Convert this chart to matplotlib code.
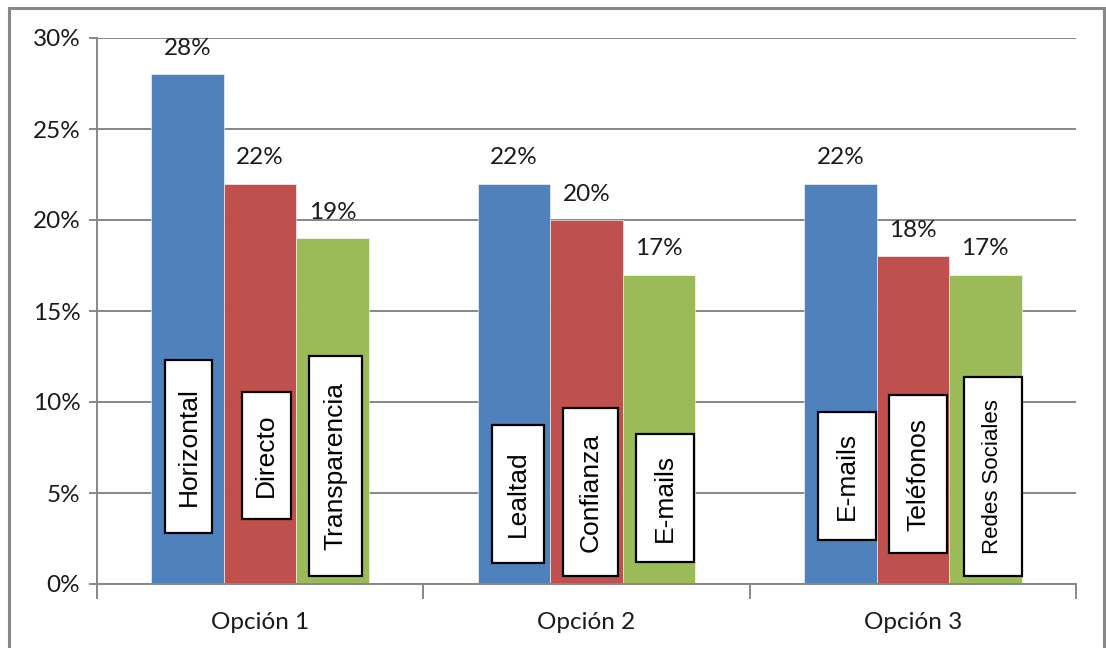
import matplotlib
matplotlib.use("Agg")
import matplotlib.pyplot as plt
from matplotlib.patches import Rectangle
from matplotlib.ticker import FixedLocator, PercentFormatter
import numpy as np

# Chart data
categories = ["Opción 1", "Opción 2", "Opción 3"]
values_first = [28, 22, 22]
values_second = [22, 20, 18]
values_third = [19, 17, 17]
names_first = ["Horizontal", "Lealtad", "E-mails"]
names_second = ["Directo", "Confianza", "Teléfonos"]
names_third = ["Transparencia", "E-mails", "Redes Sociales"]

series = [values_first, values_second, values_third]
names = [names_first, names_second, names_third]
colors = ["#4F81BD", "#C0504D", "#9BBB59"]

# Callout boxes: (left, right) as fraction of the bar width, (bottom, top) in percent
box_layout = [
    [(0.19, 0.83, 2.8, 12.3), (0.19, 0.92, 1.15, 8.74), (0.19, 0.99, 2.42, 9.45)],
    [(0.25, 0.92, 3.57, 10.55), (0.18, 0.94, 0.44, 9.67), (0.17, 0.97, 1.70, 10.38)],
    [(0.18, 0.90, 0.44, 12.53), (0.19, 0.98, 1.21, 8.24), (0.21, 1.00, 0.44, 11.37)],
]
box_fontsize = [[19, 19, 19], [19, 19, 19], [19, 19, 16]]

label_font = ["Lato", "DejaVu Sans"]
box_font = ["Liberation Sans", "DejaVu Sans"]
grey = "#878787"

fig = plt.figure(figsize=(11.06, 6.48), dpi=100)
ax = fig.add_axes([97 / 1106, 1 - 584 / 648, (1076 - 97) / 1106, (584 - 38) / 648])

# Outer chart frame
fig.patches.append(Rectangle((9 / 1106, -0.01), (1104 - 9) / 1106, 1 - 8 / 648 + 0.01,
                             transform=fig.transFigure, fill=False,
                             edgecolor=grey, linewidth=2.2, zorder=0))

x = np.arange(len(categories))
width = 0.222
offsets = [-width, 0, width]

for s, (vals, labs, col) in enumerate(zip(series, names, colors)):
    bars = ax.bar(x + offsets[s], vals, width=width, color=col,
                  edgecolor="white", linewidth=0.4, zorder=2)
    for i, (rect, v, lab) in enumerate(zip(bars, vals, labs)):
        cx = rect.get_x() + rect.get_width() / 2
        ax.annotate(f"{v}%", (cx, v), xytext=(0, 11), textcoords="offset points",
                    ha="center", va="bottom", fontsize=17.5, family=label_font,
                    color="#1a1a1a")
        l, r, b, t = box_layout[s][i]
        x0 = rect.get_x() + l * rect.get_width()
        x1 = rect.get_x() + r * rect.get_width()
        ax.add_patch(Rectangle((x0, b), x1 - x0, t - b, facecolor="white",
                               edgecolor="black", linewidth=1.6, zorder=3))
        ax.text((x0 + x1) / 2, (b + t) / 2, lab, rotation=90, ha="center",
                va="center", fontsize=box_fontsize[s][i], family=box_font,
                color="black", zorder=4)

ax.set_xlim(-0.5, 2.5)
ax.set_ylim(0, 30)
ax.set_yticks(np.arange(0, 31, 5))
ax.yaxis.set_major_formatter(PercentFormatter(decimals=0))
ax.set_xticks(x)
ax.set_xticklabels(categories)
ax.xaxis.set_minor_locator(FixedLocator([-0.5, 0.5, 1.5, 2.5]))

ax.grid(axis="y", color=grey, linewidth=1.4, zorder=0)
ax.set_axisbelow(True)
for side in ["top", "right"]:
    ax.spines[side].set_visible(False)
for side in ["left", "bottom"]:
    ax.spines[side].set_color(grey)
    ax.spines[side].set_linewidth(1.4)

ax.tick_params(axis="y", which="major", length=6, width=1.4, color=grey,
               labelsize=17.5, pad=6, labelcolor="#1a1a1a")
ax.tick_params(axis="x", which="major", length=0, labelsize=17.5, pad=20,
               labelcolor="#1a1a1a")
ax.tick_params(axis="x", which="minor", length=11, width=1.4, color=grey)
for lab in ax.get_xticklabels() + ax.get_yticklabels():
    lab.set_family(label_font)

fig.savefig("out.png", dpi=100, facecolor="white")
